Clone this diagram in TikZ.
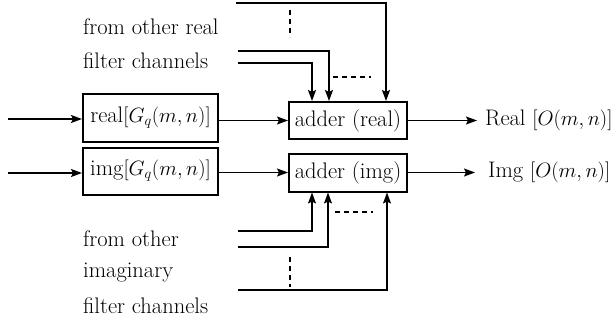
\documentclass[tikz,border=0pt]{standalone}
\usetikzlibrary{arrows.meta}
\begin{document}
\begin{tikzpicture}[x=1pt,y=-1pt,
  every node/.style={font=\fontsize{22.5}{27}\selectfont},
  blk/.style={draw,line width=2pt,inner sep=0pt},
  conn/.style={line width=1.4pt},
  arr/.style={conn,-{Stealth[length=11pt,width=8pt,inset=2pt]}},
  dsh/.style={line width=1.3pt,dash pattern=on 5pt off 4pt},
  lbl/.style={anchor=base west,inner sep=0pt}]
\useasboundingbox (0,0) rectangle (613,321);
% blocks
\node[blk,minimum width=135pt,minimum height=48pt] (gr) at (150.5,117.5) {real$[G_q(m,n)]$};
\node[blk,minimum width=135pt,minimum height=47pt] (gi) at (150.5,171) {img$[G_q(m,n)]$};
\node[blk,minimum width=118pt,minimum height=37pt] (ar) at (348,120.5) {adder (real)};
\node[blk,minimum width=118pt,minimum height=38pt] (ai) at (348,172.5) {adder (img)};
% outputs
\node[anchor=west,inner sep=0pt] (or) at (485,120.5) {Real $[O(m,n)]$};
\node[anchor=west,inner sep=0pt] (oi) at (488,172.5) {Img $[O(m,n)]$};
% inputs
\coordinate (inr) at (8,119);
\coordinate (ini) at (8,173);
\draw[arr] (inr) -- (inr -| gr.west);
\draw[arr] (ini) -- (ini -| gi.west);
\draw[arr] (gr.east |- ar.west) -- (ar.west);
\draw[arr] (gi.east |- ai.west) -- (ai.west);
\draw[arr] (ar.east) -- ([xshift=-8pt]or.west);
\draw[arr] (ai.east) -- ([xshift=-13pt]oi.west);
% labels
\node[lbl] (l1) at (83,35) {from other real};
\node[lbl] (l2) at (83,68) {filter channels};
\node[lbl] (l3) at (83,246) {from other};
\node[lbl] (l4) at (83,277) {imaginary};
\node[lbl] (l5) at (83,313) {filter channels};
% top feeds
\coordinate (t1) at (236,3);
\coordinate (t2) at (238,51);
\coordinate (t3) at (238,63);
\draw[arr] (t1) -| ([xshift=38pt]ar.north);
\draw[arr] (t2) -| ([xshift=-19pt]ar.north);
\draw[arr] (t3) -| ([xshift=-36pt]ar.north);
\draw[dsh] (290,10) -- (290,37);
\draw[dsh] (333,77) -- (371,77);
% bottom feeds
\coordinate (b1) at (238,231);
\coordinate (b2) at (238,247);
\coordinate (b3) at (238,290);
\draw[arr] (b1) -| ([xshift=-36pt]ai.south);
\draw[arr] (b2) -| ([xshift=-20pt]ai.south);
\draw[arr] (b3) -| ([xshift=39pt]ai.south);
\draw[dsh] (290,257) -- (290,287);
\draw[dsh] (335,212) -- (373,212);
\end{tikzpicture}
\end{document}
